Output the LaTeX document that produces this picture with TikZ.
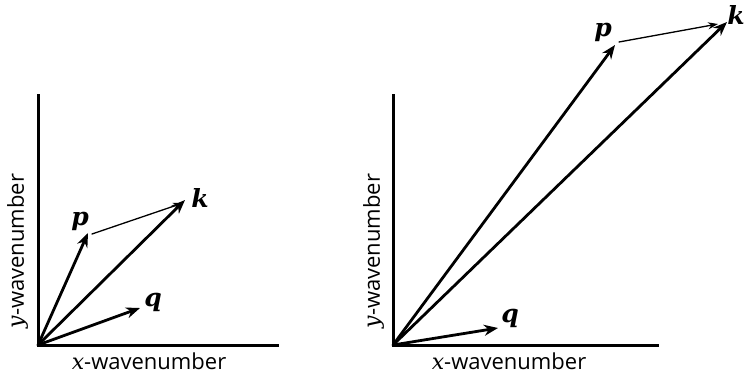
\documentclass[tikz,border=0pt]{standalone}
\usepackage{fontspec}
\setsansfont{Open Sans}
\newfontfamily\vecfont{DejaVu Serif}
\usetikzlibrary{arrows.meta}
\newcommand{\axvar}[1]{{\vecfont\itshape #1}}
\begin{document}
\begin{tikzpicture}[x=1pt, y=-1pt, line cap=round,
    axis/.style={line width=3pt, line cap=rect},
    vec/.style={line width=2.8pt, -{Stealth[length=14pt, width=11pt]}},
    diff/.style={line width=1.3pt, -{Stealth[length=10pt, width=7pt]}},
    lbl/.style={inner sep=0pt, font=\fontsize{25}{28}\selectfont\vecfont\bfseries\itshape},
    axlbl/.style={inner sep=0pt, font=\fontsize{22}{24}\selectfont\sffamily}]
  \useasboundingbox (0,0) rectangle (744,377);
  % Left panel: small vectors.
  \coordinate (O1) at (38,345);
  \coordinate (X1) at (277,345);
  \coordinate (Y1) at (38,96);
  \coordinate (p1) at (88,233);
  \coordinate (k1) at (185,200);
  \coordinate (q1) at (140,308);
  \draw[axis] (Y1) -- (O1) -- (X1);
  \draw[vec] (O1) -- (p1);
  \draw[vec] (O1) -- (k1);
  \draw[vec] (O1) -- (q1);
  \draw[diff] ([shift={(4,1)}]p1) -- ([shift={(-2,3)}]k1);
  \node[lbl] (lp1) at (80,221) {p};
  \node[lbl] (lk1) at (200,198) {k};
  \node[lbl] (lq1) at (153,302) {q};
  \node[axlbl] (lx1) at (149,361) {\axvar{x}-wavenumber};
  \node[axlbl, rotate=90] (ly1) at (18,251) {\axvar{y}-wavenumber};
  % Right panel: large vectors.
  \coordinate (O2) at (393,345);
  \coordinate (X2) at (657,345);
  \coordinate (Y2) at (393,96);
  \coordinate (p2) at (615,45);
  \coordinate (k2) at (727,22);
  \coordinate (q2) at (498,328);
  \draw[axis] (Y2) -- (O2) -- (X2);
  \draw[vec] (O2) -- (p2);
  \draw[vec] (O2) -- (k2);
  \draw[vec] (O2) -- (q2);
  \draw[diff] ([shift={(4,-3)}]p2) -- ([shift={(-9,2)}]k2);
  \node[lbl] (lp2) at (603,32) {p};
  \node[lbl] (lk2) at (736,15) {k};
  \node[lbl] (lq2) at (510,318) {q};
  \node[axlbl] (lx2) at (509,361) {\axvar{x}-wavenumber};
  \node[axlbl, rotate=90] (ly2) at (374,251) {\axvar{y}-wavenumber};
\end{tikzpicture}
\end{document}
